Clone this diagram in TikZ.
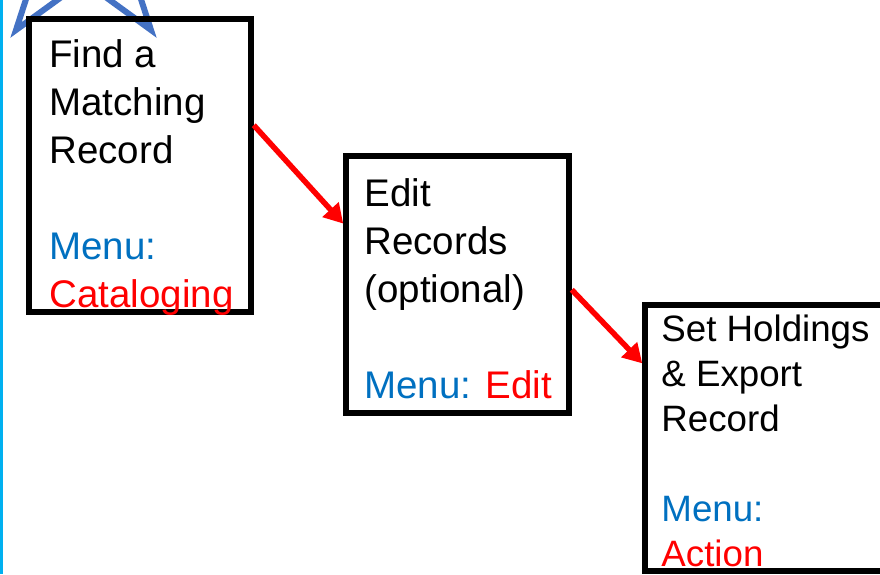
\documentclass[tikz,border=0pt]{standalone}
\usepackage{fontspec}
\setmainfont{Liberation Sans}
\usepackage{xcolor}
\usepackage{tikz}
\usetikzlibrary{arrows.meta, calc}

\definecolor{menublue}{RGB}{0,112,192}
\definecolor{menured}{RGB}{255,0,0}
\definecolor{starblue}{RGB}{68,114,196}
\definecolor{railcyan}{RGB}{0,176,240}

\begin{document}
\begin{tikzpicture}[
            x=1pt, y=-1pt,                              % pixel-like units, y grows downwards
            >={Triangle[length=19pt, width=21pt]},      % arrow tip style
            box/.style={draw, line width=5.5pt, inner sep=0pt},          % frame of a step
            txt/.style={anchor=north west, align=left, inner sep=0pt,
                        font=\fontsize{38.5}{48}\selectfont},            % text of a step
            flow/.style={->, draw=menured, line width=5.5pt}             % arrow between steps
          ]
          \useasboundingbox (0,0) rectangle (880,574);
          \clip (0,0) rectangle (880,574);

          % rule on the left and the star at the top
          \draw[railcyan, line width=3pt] (1.5,0) -- (1.5,574);
          \draw[starblue, line width=6pt, shift={(83.5,-62.9)}] (270:114.8)
            \foreach \a in {1,...,9} { -- ({270+36*\a}:{ifthenelse(isodd(\a),43.9,114.8)}) } -- cycle;

          % the three steps
          \node[box, minimum width=222, minimum height=293] (find) at (140,165.5) {};
          \node[box, minimum width=223, minimum height=257] (edit) at (457.5,284.5) {};
          \node[box, minimum width=260, minimum height=266] (export) at (775,438) {};

          \draw[flow] ($(find.north east)!0.365!(find.south east)$) -- ($(edit.north west)!0.268!(edit.south west)$);
          \draw[flow] ($(edit.north east)!0.52!(edit.south east)$) -- ($(export.north west)!0.225!(export.south west)$);

          \node[txt] (findtxt) at ([shift={(23,23)}]find.north west)
            {Find a\\Matching\\Record\\ \\\textcolor{menublue}{Menu:}\\\textcolor{menured}{Cataloging}};
          \node[txt] (edittxt) at ([shift={(21,25)}]edit.north west)
            {Edit\\Records\\(optional)\\ \\\textcolor{menublue}{Menu:} \textcolor{menured}{Edit}};
          \node[txt, font=\fontsize{36.7}{45}\selectfont] (exporttxt) at ([shift={(19,12)}]export.north west)
            {Set Holdings\\\& Export\\Record\\ \\\textcolor{menublue}{Menu:}\\\textcolor{menured}{Action}};
        \end{tikzpicture}
\end{document}
